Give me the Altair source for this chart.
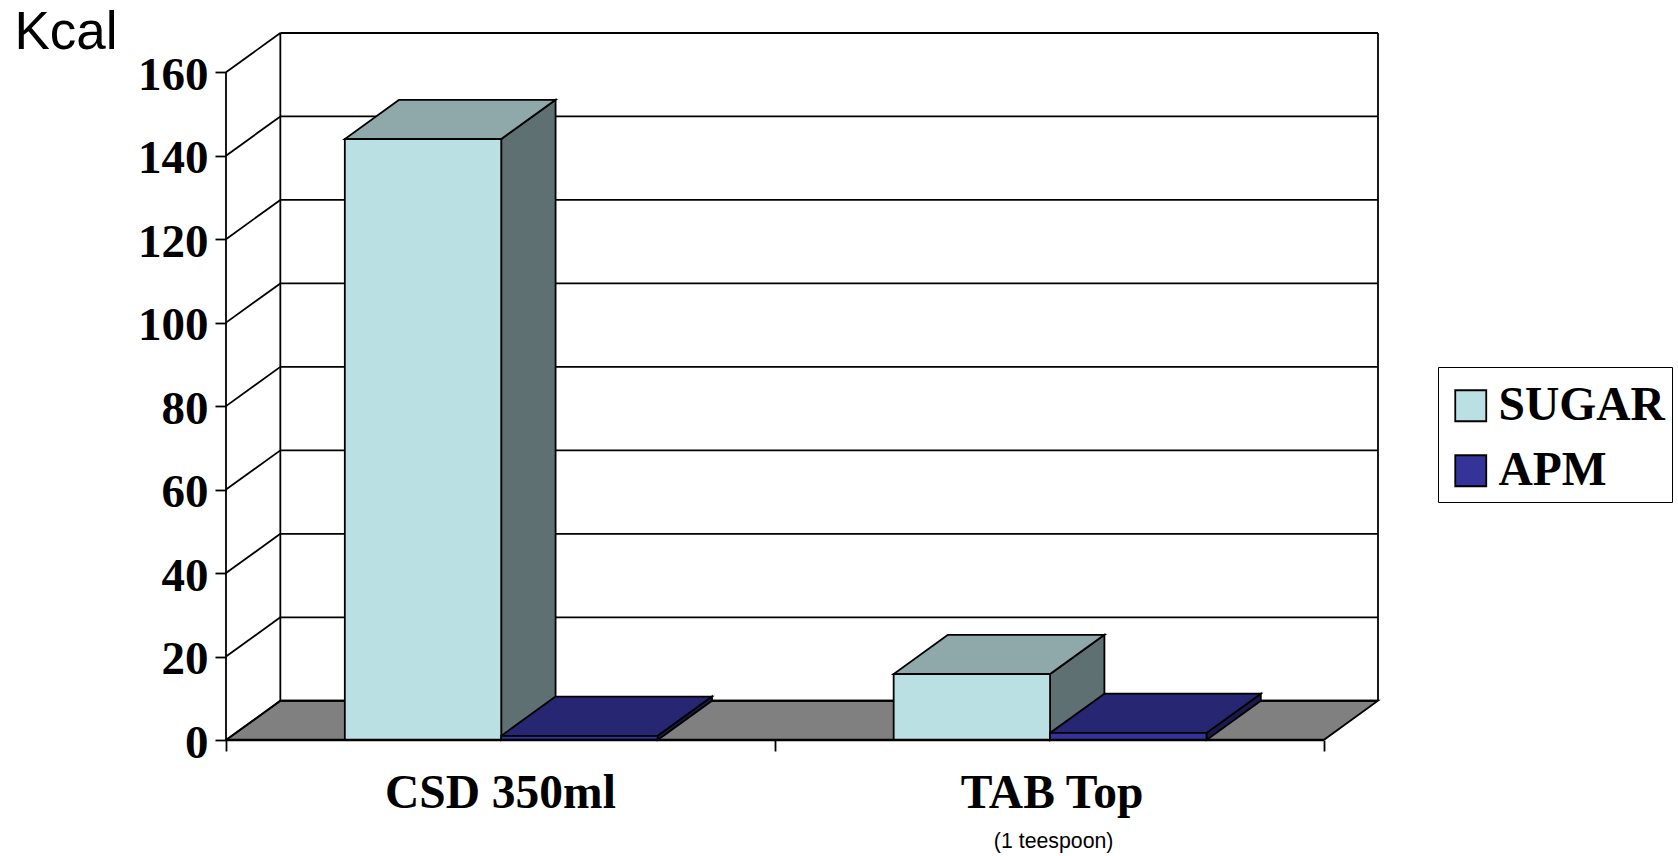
import altair as alt
import pandas as pd

# Calorie values per serving
categories = ["CSD 350ml", "TAB Top"]
series = ["SUGAR", "APM"]
sugar_values = [144, 15.8]
apm_values = [1, 1.7]
y_ticks = [0, 20, 40, 60, 80, 100, 120, 140, 160]
subtitle = "(1 teespoon)"

# Fake-3D projection, in axis units
DEPTH_X = 0.099
DEPTH_Y = 9.4
GROUP_GAP = 0.2165
BAR_WIDTH = 0.285
X_MAX = 2 + DEPTH_X
Y_MAX = 160 + DEPTH_Y

FRONT = {"SUGAR": "#BAE0E3", "APM": "#333399"}
TOP = {"SUGAR": "#8FA8AA", "APM": "#262673"}
SIDE = {"SUGAR": "#5F7072", "APM": "#1A1A4D"}

FONT_SERIF = "Liberation Serif"
FONT_SANS = "Liberation Sans"
LINE = 1.8

x_scale = alt.Scale(domain=[0, X_MAX], nice=False, zero=False)
y_scale = alt.Scale(domain=[0, Y_MAX], nice=False)

front_rows, side_rows, top_rows = [], [], []
for g, cat in enumerate(categories):
    for s, (name, vals) in enumerate([("SUGAR", sugar_values), ("APM", apm_values)]):
        v = vals[g]
        x0 = g + GROUP_GAP + s * BAR_WIDTH
        x1 = x0 + BAR_WIDTH
        key = f"{cat}-{name}"
        front_rows.append({"series": name, "x0": x0, "x1": x1, "v": v})
        side_rows += [
            {"key": key, "fill": SIDE[name], "x": x1, "lo": 0, "hi": v},
            {"key": key, "fill": SIDE[name], "x": x1 + DEPTH_X, "lo": DEPTH_Y, "hi": v + DEPTH_Y},
        ]
        top_rows += [
            {"key": key, "fill": TOP[name], "y": v, "a": x0, "b": x1},
            {"key": key, "fill": TOP[name], "y": v + DEPTH_Y, "a": x0 + DEPTH_X, "b": x1 + DEPTH_X},
        ]

# Grey floor, which also carries the two axes
floor = (
    alt.Chart(pd.DataFrame([
        {"y": 0, "a": 0, "b": 2},
        {"y": DEPTH_Y, "a": DEPTH_X, "b": X_MAX},
    ]))
    .mark_area(orient="horizontal", fill="#808080", stroke="black", strokeWidth=LINE)
    .encode(x=alt.X("a:Q", scale=x_scale, axis=alt.Axis(
                values=[0, 1, 2], labels=False, domain=False, grid=False,
                tickSize=11, tickColor="black", tickWidth=LINE, title=None)),
            x2="b:Q",
            y=alt.Y("y:Q", scale=y_scale, axis=alt.Axis(
                values=y_ticks, domain=False, grid=False, tickSize=11,
                tickColor="black", tickWidth=LINE, format="d",
                labelFont=FONT_SERIF, labelFontWeight="bold", labelFontSize=47,
                labelColor="black", labelPadding=7, labelBaseline="middle", labelOffset=3,
                title="Kcal", titleAngle=0, titleFont=FONT_SANS, titleFontWeight="normal",
                titleFontSize=53, titleColor="black", titleAlign="left",
                titleBaseline="alphabetic", titleX=-212, titleY=15)))
)

# Back wall gridlines, and the slanted lines on the side wall
grid_back = (
    alt.Chart(pd.DataFrame({"v": y_ticks}))
    .transform_calculate(y=f"datum.v + {DEPTH_Y}", a=f"{DEPTH_X}", b=f"{X_MAX}")
    .mark_rule(color="black", strokeWidth=LINE)
    .encode(x=alt.X("a:Q", scale=x_scale, axis=None), x2="b:Q",
            y=alt.Y("y:Q", scale=y_scale, axis=None))
)
slant_rows = []
for v in y_ticks:
    slant_rows += [{"v": v, "x": 0, "y": v}, {"v": v, "x": DEPTH_X, "y": v + DEPTH_Y}]
grid_side = (
    alt.Chart(pd.DataFrame(slant_rows))
    .mark_line(color="black", strokeWidth=LINE)
    .encode(x=alt.X("x:Q", scale=x_scale, axis=None),
            y=alt.Y("y:Q", scale=y_scale, axis=None), detail="v:N")
)

# Vertical frame edges
edges = (
    alt.Chart(pd.DataFrame([
        {"x": 0, "lo": 0, "hi": 160},
        {"x": DEPTH_X, "lo": DEPTH_Y, "hi": Y_MAX},
        {"x": X_MAX, "lo": DEPTH_Y, "hi": Y_MAX},
    ]))
    .mark_rule(color="black", strokeWidth=LINE)
    .encode(x=alt.X("x:Q", scale=x_scale, axis=None),
            y=alt.Y("lo:Q", scale=y_scale, axis=None), y2="hi:Q")
)

sides = (
    alt.Chart(pd.DataFrame(side_rows))
    .mark_area(orient="vertical", stroke="black", strokeWidth=LINE)
    .encode(x=alt.X("x:Q", scale=x_scale, axis=None),
            y=alt.Y("lo:Q", scale=y_scale, axis=None), y2="hi:Q",
            fill=alt.Fill("fill:N", scale=None), detail="key:N")
)
tops = (
    alt.Chart(pd.DataFrame(top_rows))
    .mark_area(orient="horizontal", stroke="black", strokeWidth=LINE)
    .encode(x=alt.X("a:Q", scale=x_scale, axis=None), x2="b:Q",
            y=alt.Y("y:Q", scale=y_scale, axis=None),
            fill=alt.Fill("fill:N", scale=None), detail="key:N")
)
fronts = (
    alt.Chart(pd.DataFrame(front_rows))
    .transform_calculate(base="0")
    .mark_rect(stroke="black", strokeWidth=LINE)
    .encode(x=alt.X("x0:Q", scale=x_scale, axis=None), x2="x1:Q",
            y=alt.Y("v:Q", scale=y_scale, axis=None), y2="base:Q",
            fill=alt.Fill("series:N",
                          scale=alt.Scale(domain=series, range=[FRONT[s] for s in series]),
                          legend=alt.Legend(
                              title=" ", titleFontSize=2, titlePadding=6,
                              orient="none", legendX=1212, legendY=334,
                              symbolType="square", symbolSize=961, symbolStrokeColor="black",
                              symbolStrokeWidth=LINE, symbolOpacity=1, symbolOffset=2,
                              labelFont=FONT_SERIF, labelFontWeight="bold", labelFontSize=47.5,
                              labelColor="black", labelLimit=400, labelOffset=4,
                              rowPadding=16, padding=7,
                              strokeColor="black", fillColor="white")))
)

# Front floor edge
front_edge = (
    alt.Chart(pd.DataFrame({"a": [0], "b": [2], "y": [0]}))
    .mark_rule(color="black", strokeWidth=2.4)
    .encode(x=alt.X("a:Q", scale=x_scale, axis=None), x2="b:Q",
            y=alt.Y("y:Q", scale=y_scale, axis=None))
)

labels = (
    alt.Chart(pd.DataFrame({"x": [0.5, 1.505], "y": [0, 0], "t": categories}))
    .mark_text(font=FONT_SERIF, fontWeight="bold", fontSize=47.5, color="black",
               baseline="alphabetic", dy=68)
    .encode(x=alt.X("x:Q", scale=x_scale, axis=None),
            y=alt.Y("y:Q", scale=y_scale, axis=None), text="t:N")
)
note = (
    alt.Chart(pd.DataFrame({"x": [1.508], "y": [0], "t": [subtitle]}))
    .mark_text(font=FONT_SANS, fontSize=21.3, color="black", baseline="alphabetic", dy=108)
    .encode(x=alt.X("x:Q", scale=x_scale, axis=None),
            y=alt.Y("y:Q", scale=y_scale, axis=None), text="t:N")
)

chart = (
    alt.layer(floor, grid_back, grid_side, edges, sides, tops, fronts, front_edge, labels, note)
    .resolve_scale(fill="independent")
    .resolve_axis(x="independent", y="independent")
    .properties(
        width=1152,
        height=707,
        background="white",
        padding={"left": 226, "top": 33, "right": 299, "bottom": 116},
        autosize=alt.AutoSizeParams(type="none"),
    )
    .configure_view(stroke="transparent", strokeWidth=0)
)

chart.save("out.html", embed_options={"renderer": "svg", "actions": False})
